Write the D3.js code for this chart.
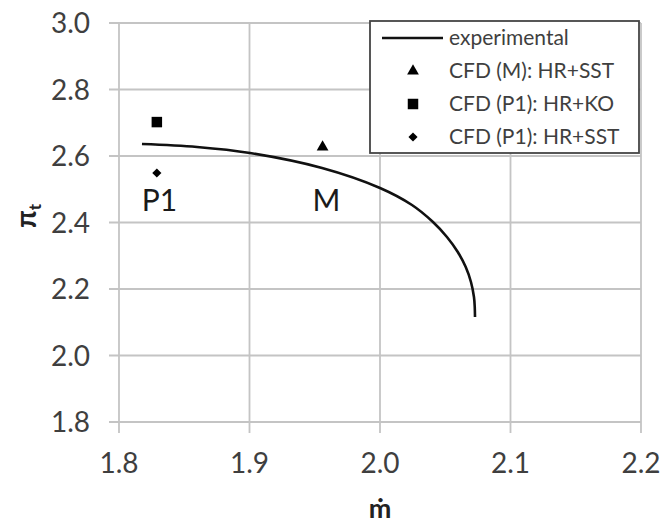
<!DOCTYPE html>
<html>
<head>
<meta charset="utf-8">
<script src="https://cdn.jsdelivr.net/npm/d3@7"></script>
<style>
  body { margin: 0; background: #fff; }
  text { font-family: Lato, "Open Sans", sans-serif; }
</style>
</head>
<body>
<script>
// pressure ratio vs mass flow, experimental line + CFD points
var expMassFlow = [1.8176, 1.8598, 1.9004, 1.9556, 2.0000, 2.0245, 2.0406, 2.0513, 2.0596, 2.0657, 2.0697, 2.0720, 2.0726, 2.0728];
var expPressure = [2.6361, 2.6271, 2.6090, 2.5639, 2.5038, 2.4526, 2.4015, 2.3564, 2.3113, 2.2662, 2.2211, 2.1759, 2.1459, 2.1158];

var cfdNames    = ["CFD (M): HR+SST", "CFD (P1): HR+KO", "CFD (P1): HR+SST"];
var cfdSymbols  = ["triangle", "square", "diamond"];
var cfdMassFlow = [1.956, 1.829, 1.829];
var cfdPressure = [2.627, 2.702, 2.549];

var pointLabels = ["P1", "M"];
var labelMassFlow = [1.831, 1.959];

var xTicks = [1.8, 1.9, 2.0, 2.1, 2.2];
var yTicks = [1.8, 2.0, 2.2, 2.4, 2.6, 2.8, 3.0];

(function() {
  var width = 662, height = 524,
      margin = {top: 23, right: 21, bottom: 102, left: 119};

  var svg = d3.select("body").append("svg")
      .attr("width", width)
      .attr("height", height);

  var x = d3.scaleLinear().domain([1.8, 2.2]).range([margin.left, width - margin.right]);
  var y = d3.scaleLinear().domain([1.8, 3.0]).range([height - margin.bottom, margin.top]);

  var gridColor = "#c4c4c4",
      textColor = "#3f3f3f";

  // grid lines, with short tick stubs past the axes
  svg.append("g").selectAll("line").data(yTicks).enter().append("line")
      .attr("x1", margin.left - 10).attr("x2", width - margin.right)
      .attr("y1", function(d) { return y(d); }).attr("y2", function(d) { return y(d); })
      .attr("stroke", gridColor).attr("stroke-width", 1.8);

  svg.append("g").selectAll("line").data(xTicks).enter().append("line")
      .attr("y1", margin.top).attr("y2", height - margin.bottom + 11)
      .attr("x1", function(d) { return x(d); }).attr("x2", function(d) { return x(d); })
      .attr("stroke", gridColor).attr("stroke-width", 1.8);

  // tick labels
  svg.append("g").selectAll("text").data(yTicks).enter().append("text")
      .attr("x", margin.left - 29)
      .attr("y", function(d) { return y(d); })
      .attr("dy", "0.36em")
      .attr("text-anchor", "end")
      .attr("font-size", 28)
      .attr("fill", textColor)
      .text(function(d) { return d3.format(".1f")(d); });

  svg.append("g").selectAll("text").data(xTicks).enter().append("text")
      .attr("x", function(d) { return x(d); })
      .attr("y", height - margin.bottom + 51)
      .attr("text-anchor", "middle")
      .attr("font-size", 28)
      .attr("fill", textColor)
      .text(function(d) { return d3.format(".1f")(d); });

  // axis titles
  svg.append("text")
      .attr("x", x(2.0)).attr("y", 518)
      .attr("text-anchor", "middle")
      .attr("font-size", 27).attr("font-weight", "bold")
      .attr("fill", "#222")
      .text("\u1E41");

  var yTitle = svg.append("text")
      .attr("transform", "translate(36,216) rotate(-90)")
      .attr("text-anchor", "middle")
      .attr("font-size", 28).attr("font-weight", "bold")
      .attr("fill", "#222");
  yTitle.append("tspan").text("\u03C0");
  yTitle.append("tspan").attr("font-size", 17).attr("dy", 5).text("t");

  // experimental curve
  var expData = expMassFlow.map(function(m, i) { return [m, expPressure[i]]; });
  var line = d3.line()
      .x(function(d) { return x(d[0]); })
      .y(function(d) { return y(d[1]); })
      .curve(d3.curveCatmullRom.alpha(0.5));

  svg.append("path")
      .datum(expData)
      .attr("d", line)
      .attr("fill", "none")
      .attr("stroke", "#111")
      .attr("stroke-width", 2.6);

  // CFD points
  var symbolType = {
    triangle: d3.symbolTriangle,
    square: d3.symbolSquare,
    diamond: d3.symbolSquare
  };
  var symbolSize = { triangle: 60, square: 110, diamond: 42 };
  var symbolTurn = { triangle: 0, square: 0, diamond: 45 };

  function drawSymbol(g, kind, px, py) {
    g.append("path")
      .attr("d", d3.symbol().type(symbolType[kind]).size(symbolSize[kind])())
      .attr("transform", "translate(" + px + "," + py + ") rotate(" + symbolTurn[kind] + ")")
      .attr("fill", "#000");
  }

  var points = svg.append("g");
  cfdNames.forEach(function(name, i) {
    drawSymbol(points, cfdSymbols[i], x(cfdMassFlow[i]), y(cfdPressure[i]));
  });

  // operating point labels
  svg.append("g").selectAll("text").data(pointLabels).enter().append("text")
      .attr("x", function(d, i) { return x(labelMassFlow[i]); })
      .attr("y", 211)
      .attr("text-anchor", "middle")
      .attr("font-size", 30)
      .attr("fill", "#1a1a1a")
      .text(function(d) { return d; });

  // legend
  var legend = svg.append("g");
  legend.append("rect")
      .attr("x", 370).attr("y", 21)
      .attr("width", 269).attr("height", 132)
      .attr("fill", "#fff")
      .attr("stroke", "#454545")
      .attr("stroke-width", 1.8);

  var rowY = [38, 71, 104, 137];
  legend.append("line")
      .attr("x1", 382).attr("x2", 443)
      .attr("y1", rowY[0]).attr("y2", rowY[0])
      .attr("stroke", "#111").attr("stroke-width", 2.6);
  legend.append("text")
      .attr("x", 449).attr("y", rowY[0]).attr("dy", "0.33em")
      .attr("font-size", 21).attr("fill", textColor)
      .text("experimental");

  cfdNames.forEach(function(name, i) {
    drawSymbol(legend, cfdSymbols[i], 413, rowY[i + 1]);
    legend.append("text")
      .attr("x", 449).attr("y", rowY[i + 1]).attr("dy", "0.35em")
      .attr("font-size", 21).attr("fill", textColor)
      .text(name);
  });
})();
</script>
</body>
</html>
